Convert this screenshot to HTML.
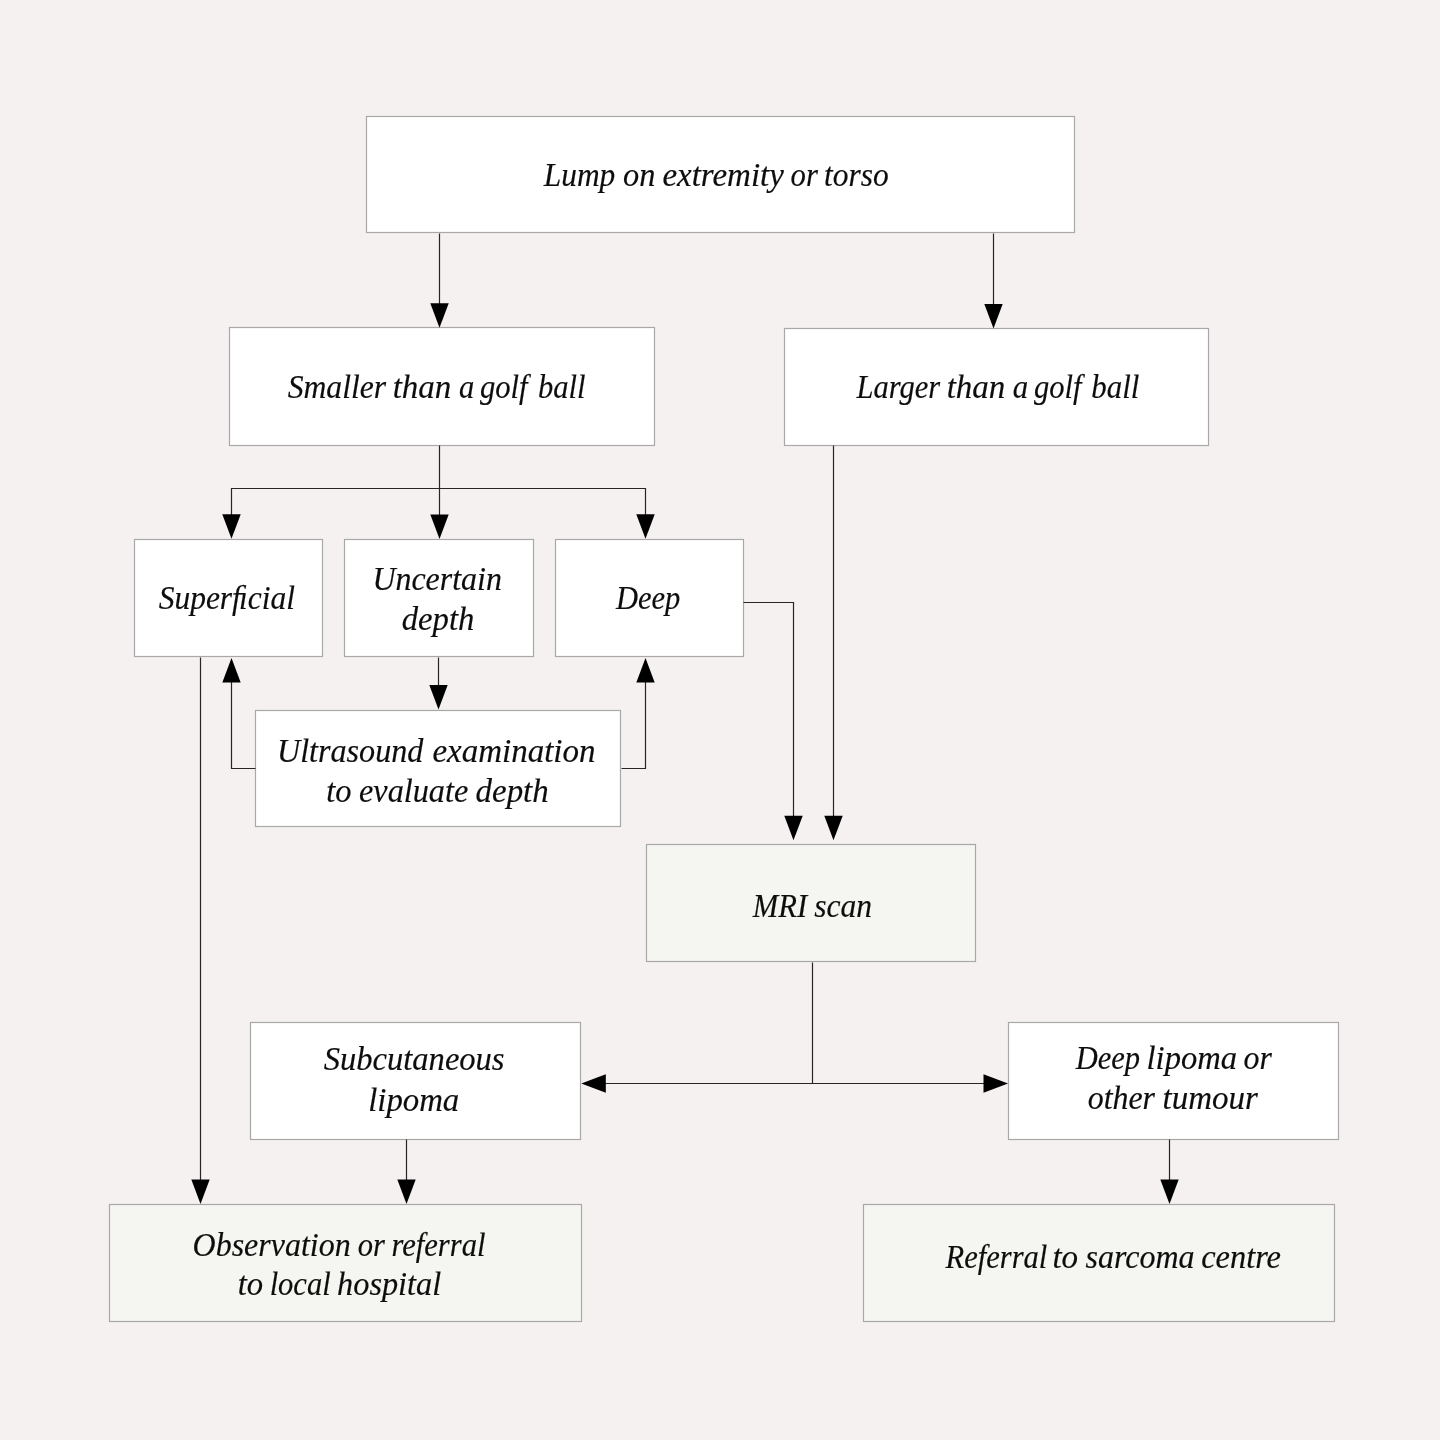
<!DOCTYPE html>
<html lang="en">
<head>
<meta charset="utf-8">
<title>Flowchart: lump on extremity or torso</title>
<style>
html,body{margin:0;padding:0;background:#f4f1f0;}
body{width:1440px;height:1440px;overflow:hidden;}
svg{display:block;will-change:transform;}
text{font-family:"Liberation Serif",serif;font-style:italic;font-size:33px;fill:#0d0d0d;stroke:#0d0d0d;stroke-width:.18px;}
.b{stroke:#a8a8a8;stroke-width:1.2;}
.l{fill:none;stroke:#262626;stroke-width:1.2;stroke-linejoin:miter;}
.a{fill:#000;}
</style>
</head>
<body>
<svg width="1440" height="1440" viewBox="0 0 1440 1440">
<rect x="0" y="0" width="1440" height="1440" fill="#f4f1f0"/>
<g>
<rect class="b" x="366.5" y="116.5" width="708" height="116" fill="#fff"/>
<rect class="b" x="229.5" y="327.5" width="425" height="118" fill="#fff"/>
<rect class="b" x="784.5" y="328.5" width="424" height="117" fill="#fff"/>
<rect class="b" x="134.5" y="539.5" width="188" height="117" fill="#fff"/>
<rect class="b" x="344.5" y="539.5" width="189" height="117" fill="#fff"/>
<rect class="b" x="555.5" y="539.5" width="188" height="117" fill="#fff"/>
<rect class="b" x="255.5" y="710.5" width="365" height="116" fill="#fff"/>
<rect class="b" x="646.5" y="844.5" width="329" height="117" fill="#f5f6f1"/>
<rect class="b" x="250.5" y="1022.5" width="330" height="117" fill="#fff"/>
<rect class="b" x="1008.5" y="1022.5" width="330" height="117" fill="#fff"/>
<rect class="b" x="109.5" y="1204.5" width="472" height="117" fill="#f5f6f1"/>
<rect class="b" x="863.5" y="1204.5" width="471" height="117" fill="#f5f6f1"/>
</g>
<g>
<polyline class="l" points="439.5,233.5 439.5,305.5"/>
<polyline class="l" points="993.5,233.5 993.5,306.5"/>
<polyline class="l" points="439.5,445.5 439.5,516.5"/>
<polyline class="l" points="231.5,516.5 231.5,488.5 645.5,488.5 645.5,516.5"/>
<polyline class="l" points="200.5,657.5 200.5,1181.5"/>
<polyline class="l" points="438.5,657.5 438.5,686.5"/>
<polyline class="l" points="255.5,768.5 231.5,768.5 231.5,680.5"/>
<polyline class="l" points="621.5,768.5 645.5,768.5 645.5,680.5"/>
<polyline class="l" points="743.5,602.5 793.5,602.5 793.5,818.5"/>
<polyline class="l" points="833.5,445.5 833.5,818.5"/>
<polyline class="l" points="812.5,962.5 812.5,1083.5"/>
<polyline class="l" points="604.5,1083.5 985.5,1083.5"/>
<polyline class="l" points="406.5,1139.5 406.5,1181.5"/>
<polyline class="l" points="1169.5,1139.5 1169.5,1181.5"/>
</g>
<g>
<polygon class="a" points="439.5,327.7 430.3,303.2 448.7,303.2"/>
<polygon class="a" points="993.5,328.6 984.3,304.1 1002.7,304.1"/>
<polygon class="a" points="439.5,538.9 430.3,514.4 448.7,514.4"/>
<polygon class="a" points="231.5,538.8 222.3,514.3 240.7,514.3"/>
<polygon class="a" points="645.5,538.8 636.3,514.3 654.7,514.3"/>
<polygon class="a" points="200.5,1204 191.3,1179.5 209.7,1179.5"/>
<polygon class="a" points="438.5,709.6 429.3,685.1 447.7,685.1"/>
<polygon class="a" points="231.5,658 222.3,682.5 240.7,682.5"/>
<polygon class="a" points="645.5,658 636.3,682.5 654.7,682.5"/>
<polygon class="a" points="793.5,840.2 784.3,815.7 802.7,815.7"/>
<polygon class="a" points="833.5,840.2 824.3,815.7 842.7,815.7"/>
<polygon class="a" points="581.3,1083.5 605.8,1074.3 605.8,1092.7"/>
<polygon class="a" points="1008,1083.5 983.5,1074.3 983.5,1092.7"/>
<polygon class="a" points="406.5,1204 397.3,1179.5 415.7,1179.5"/>
<polygon class="a" points="1169.5,1204 1160.3,1179.5 1178.7,1179.5"/>
</g>
<g style="opacity:.999">
<text x="543.78" y="186.4" textLength="71.52" lengthAdjust="spacingAndGlyphs">Lump</text>
<text x="623.12" y="186.4" textLength="32.3" lengthAdjust="spacingAndGlyphs">on</text>
<text x="662.38" y="186.4" textLength="121.55" lengthAdjust="spacingAndGlyphs">extremity</text>
<text x="790.57" y="186.4" textLength="27.28" lengthAdjust="spacingAndGlyphs">or</text>
<text x="824.11" y="186.4" textLength="64.61" lengthAdjust="spacingAndGlyphs">torso</text>
<text x="287.66" y="398" textLength="98.46" lengthAdjust="spacingAndGlyphs">Smaller</text>
<text x="392.65" y="398" textLength="58.67" lengthAdjust="spacingAndGlyphs">than</text>
<text x="459.03" y="398" textLength="15.26" lengthAdjust="spacingAndGlyphs">a</text>
<text x="480" y="398" textLength="47.63" lengthAdjust="spacingAndGlyphs">golf</text>
<text x="538.08" y="398" textLength="47.49" lengthAdjust="spacingAndGlyphs">ball</text>
<text x="856.56" y="398" textLength="83.68" lengthAdjust="spacingAndGlyphs">Larger</text>
<text x="946.67" y="398" textLength="58.67" lengthAdjust="spacingAndGlyphs">than</text>
<text x="1012.77" y="398" textLength="15.4" lengthAdjust="spacingAndGlyphs">a</text>
<text x="1034.07" y="398" textLength="47.49" lengthAdjust="spacingAndGlyphs">golf</text>
<text x="1091.33" y="398" textLength="47.97" lengthAdjust="spacingAndGlyphs">ball</text>
<text x="158.66" y="609.3" textLength="136.44" lengthAdjust="spacingAndGlyphs">Superﬁcial</text>
<text x="372.4" y="590.4" textLength="129.47" lengthAdjust="spacingAndGlyphs">Uncertain</text>
<text x="401.71" y="630" textLength="72.61" lengthAdjust="spacingAndGlyphs">depth</text>
<text x="615.93" y="609.25" textLength="64.42" lengthAdjust="spacingAndGlyphs">Deep</text>
<text x="276.98" y="761.7" textLength="146.38" lengthAdjust="spacingAndGlyphs">Ultrasound</text>
<text x="432.42" y="761.7" textLength="163.14" lengthAdjust="spacingAndGlyphs">examination</text>
<text x="326.27" y="801.5" textLength="25.23" lengthAdjust="spacingAndGlyphs">to</text>
<text x="359.02" y="801.5" textLength="109.24" lengthAdjust="spacingAndGlyphs">evaluate</text>
<text x="475.6" y="801.5" textLength="73.12" lengthAdjust="spacingAndGlyphs">depth</text>
<text x="752.83" y="916.7" textLength="54.24" lengthAdjust="spacingAndGlyphs">MRI</text>
<text x="814.26" y="916.7" textLength="57.83" lengthAdjust="spacingAndGlyphs">scan</text>
<text x="323.75" y="1070.4" textLength="180.79" lengthAdjust="spacingAndGlyphs">Subcutaneous</text>
<text x="368.16" y="1110.5" textLength="91.1" lengthAdjust="spacingAndGlyphs">lipoma</text>
<text x="1075.68" y="1068.6" textLength="64.42" lengthAdjust="spacingAndGlyphs">Deep</text>
<text x="1146.57" y="1068.6" textLength="90.38" lengthAdjust="spacingAndGlyphs">lipoma</text>
<text x="1243.54" y="1068.6" textLength="28.31" lengthAdjust="spacingAndGlyphs">or</text>
<text x="1087.73" y="1109.3" textLength="67.29" lengthAdjust="spacingAndGlyphs">other</text>
<text x="1162.53" y="1109.3" textLength="95.34" lengthAdjust="spacingAndGlyphs">tumour</text>
<text x="192.55" y="1255.6" textLength="158.12" lengthAdjust="spacingAndGlyphs">Observation</text>
<text x="357.79" y="1255.6" textLength="27.14" lengthAdjust="spacingAndGlyphs">or</text>
<text x="391.44" y="1255.6" textLength="94" lengthAdjust="spacingAndGlyphs">referral</text>
<text x="237.76" y="1295.3" textLength="25.4" lengthAdjust="spacingAndGlyphs">to</text>
<text x="269.63" y="1295.3" textLength="61.05" lengthAdjust="spacingAndGlyphs">local</text>
<text x="337.12" y="1295.3" textLength="104.07" lengthAdjust="spacingAndGlyphs">hospital</text>
<text x="945.59" y="1267.8" textLength="101.74" lengthAdjust="spacingAndGlyphs">Referral</text>
<text x="1052.45" y="1267.8" textLength="25.67" lengthAdjust="spacingAndGlyphs">to</text>
<text x="1085.56" y="1267.8" textLength="108.91" lengthAdjust="spacingAndGlyphs">sarcoma</text>
<text x="1201.22" y="1267.8" textLength="79.8" lengthAdjust="spacingAndGlyphs">centre</text>
</g>
</svg>
</body>
</html>
